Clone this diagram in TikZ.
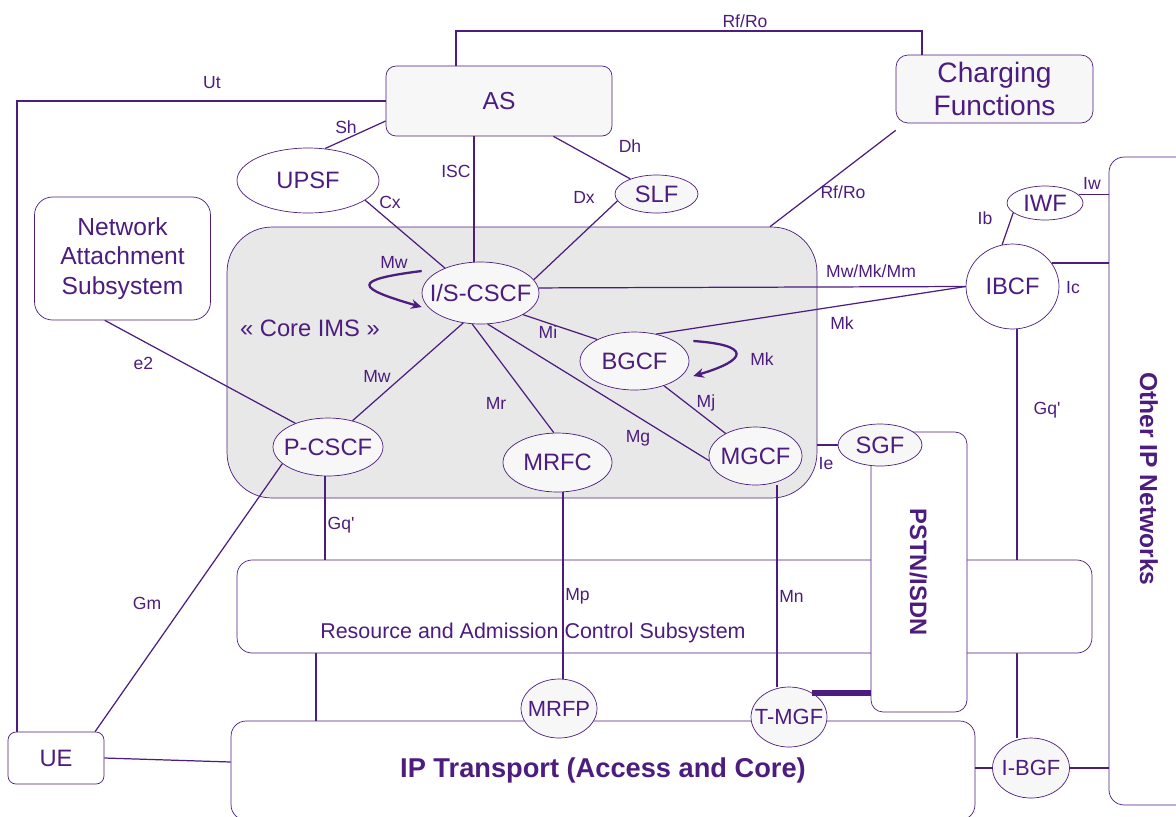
\documentclass[tikz,border=0pt]{standalone}
\usepackage{fontspec}
\setmainfont{Liberation Sans}
\usetikzlibrary{arrows.meta, positioning, shapes.geometric, calc}

\definecolor{imspurple}{RGB}{76,28,126}
\definecolor{imsfill}{RGB}{247,247,247}
\definecolor{coregray}{RGB}{232,232,232}

\begin{document}
\begin{tikzpicture}[
  x=0.02cm, y=-0.02cm,
  fn/.style={ellipse, draw=imspurple, fill=imsfill, inner sep=-1cm,
             text=imspurple, font=\fontsize{13.5}{16}\selectfont},
  sys/.style={rectangle, draw=imspurple, fill=white, rounded corners=#1,
              inner sep=0pt, text=imspurple, align=center},
  sys/.default=0.24cm,
  lnk/.style={draw=imspurple, line width=0.7pt},
  selfloop/.style={draw=imspurple, line width=1.3pt, -{Stealth[length=6pt, width=5.5pt]}},
  trunk/.style={draw=imspurple, line width=3pt},
  lbl/.style={text=imspurple, inner sep=0pt, font=\fontsize{10}{12}\selectfont},
  title/.style={text=imspurple, inner sep=0pt},
]
\useasboundingbox (0,0) rectangle (1176,816);

% ---- subsystems ----
\node[sys=0.9cm, fill=coregray, minimum width=11.8cm, minimum height=5.42cm] (core) at (522,362.5) {};
\node[title, font=\fontsize{13.5}{16}\selectfont] (coretxt) at (310,328) {« Core IMS »};
\node[sys=0.36cm, minimum width=3.52cm, minimum height=2.46cm, font=\fontsize{14}{17}\selectfont] (nas) at (122.5,258.5) {Network\\Attachment\\Subsystem};
\node[sys=0.2cm, fill=imsfill, minimum width=4.52cm, minimum height=1.4cm, font=\fontsize{14}{17}\selectfont] (as) at (499,101) {AS};
\node[sys, fill=imsfill, minimum width=3.94cm, minimum height=1.36cm, font=\fontsize{16}{19}\selectfont] (chg) at (994.5,89) {Charging\\Functions};
\node[sys=0.16cm, minimum width=1.92cm, minimum height=1.04cm, font=\fontsize{13.5}{16}\selectfont] (ue) at (56,758) {UE};
\node[sys=0.3cm, minimum width=14.88cm, minimum height=1.98cm, font=\bfseries\fontsize{15.5}{18}\selectfont] (ipt) at (603,770.5) {IP Transport (Access and Core)};
\node[sys=0.3cm, minimum width=1.82cm, minimum height=12.96cm] (oip) at (1154.5,481) {};
\node[title, rotate=-90, font=\bfseries\fontsize{14}{16}\selectfont] (oiptxt) at (1149,479) {Other IP Networks};

% ---- functions ----
\node[fn, fill=white, minimum width=2.84cm, minimum height=1.3cm] (upsf) at (308,180.5) {UPSF};
\node[fn, minimum width=1.66cm, minimum height=0.76cm] (slf) at (656.5,194) {SLF};
\node[fn, minimum width=2.34cm, minimum height=1.24cm] (iscscf) at (480.5,293) {I/S-CSCF};
\node[fn, minimum width=2.18cm, minimum height=1.16cm] (bgcf) at (634.5,361) {BGCF};
\node[fn, minimum width=2.2cm, minimum height=1.16cm] (pcscf) at (328,447) {P-CSCF};
\node[fn, minimum width=2.18cm, minimum height=1.18cm] (mrfc) at (557.5,462.5) {MRFC};
\node[fn, minimum width=1.86cm, minimum height=1.16cm] (mgcf) at (755.5,456) {MGCF};
\node[fn, fill=white, minimum width=1.86cm, minimum height=1.7cm] (ibcf) at (1012.5,286.5) {IBCF};
\node[fn, fill=white, minimum width=1.52cm, minimum height=0.68cm] (iwf) at (1045,203) {IWF};
\node[fn, minimum width=1.52cm, minimum height=1.18cm, font=\fontsize{12.5}{15}\selectfont] (mrfp) at (559,708.5) {MRFP};
\node[fn, minimum width=1.52cm, minimum height=1.2cm, font=\fontsize{12.5}{15}\selectfont] (tmgf) at (789,717) {T-MGF};
\node[fn, minimum width=1.54cm, minimum height=1.2cm, font=\fontsize{12.5}{15}\selectfont] (ibgf) at (1031,768) {I-BGF};

% Gq' from IBCF runs under the RACS box
\draw[lnk] (ibcf.south -| 1017,0) -- (ibgf.north -| 1017,0);

% ---- RACS and PSTN ----
\node[sys=0.3cm, minimum width=17.1cm, minimum height=1.86cm] (racs) at (664.5,606.5) {};
\node[title, font=\fontsize{12.2}{14}\selectfont] (racstxt) at (533,633) {Resource and Admission Control Subsystem};
\node[sys, minimum width=1.92cm, minimum height=5.6cm] (pstn) at (919,572) {};
\node[title, rotate=-90, font=\bfseries\fontsize{13.5}{16}\selectfont] (pstntxt) at (918.5,572) {PSTN/ISDN};
\node[fn, minimum width=1.68cm, minimum height=0.84cm] (sgf) at (880,445) {SGF};

% ---- interfaces ----
\coordinate (rfc) at (922,31);
\draw[lnk] (as.north -| 456,0) |- (rfc) -- (chg.north -| rfc);
\draw[lnk] (as.west) -| (ue.north -| 17,0);
\draw[lnk] (as.190) -- (upsf.62);
\draw[lnk] (as.-33) -- (slf.150);
\draw[lnk] (as.south -| 474,0) -- (iscscf.north -| 474,0);
\draw[lnk] (upsf.-19) -- (iscscf.145);
\draw[lnk] (slf.190) -- (iscscf.14);
\draw[lnk] ($(chg.south west)+(0,7)$) -- (core.north -| 770,0);
\draw[lnk] (iscscf.5) -- (ibcf.west);
\draw[lnk] (ibcf.west) -- (bgcf.51);
\draw[lnk] (iscscf.-27) -- (bgcf.150);
\draw[lnk] (iscscf.-77) -- (mgcf.186);
\draw[lnk] (bgcf.-40) -- (mgcf.143);
\draw[lnk] (iscscf.255) -- (mrfc.97);
\draw[lnk] (iscscf.240) -- (pcscf.47);
\draw[lnk] (nas.254) -- (pcscf.144);
\draw[lnk] (ue.34) -- (pcscf.200);
\draw[lnk] (ue.east) -- (ipt.west |- 0,762);
\draw[lnk] (pcscf.south -| 325,0) -- (racs.north -| 325,0);
\draw[lnk] (racs.south -| 316,0) -- (ipt.north -| 316,0);
\draw[lnk] (mrfc.south -| 563,0) -- (mrfp.north -| 563,0);
\draw[lnk] (mgcf.south -| 777,0) -- (tmgf.north -| 777,0);
\draw[trunk] (tmgf.46) -- (tmgf.46 -| pstn.west);
\draw[lnk] (sgf.west -| core.east) -- (sgf.west);
\draw[lnk] (iwf.197) -- (ibcf.104);
\draw[lnk] (iwf.14) -- (iwf.14 -| oip.west);
\draw[lnk] (ibcf.31) -- (ibcf.31 -| oip.west);
\draw[lnk] (ipt.east |- ibgf.west) -- (ibgf.west);
\draw[lnk] (ibgf.east) -- (ibgf.east -| oip.west);

% ---- self loops ----
\draw[selfloop] ($(iscscf.west)+(0,-22)$) .. controls (350,280) and (356,288) .. ($(iscscf.west)+(0,14)$);
\draw[selfloop] ($(bgcf.east)+(4,-20)$) .. controls (752,345) and (748,360) .. ($(bgcf.east)+(4,15)$);

% ---- interface labels ----
\node[lbl] (lrf1) at (745,21) {Rf/Ro};
\node[lbl] (lut) at (212,83) {Ut};
\node[lbl] (lsh) at (346,127) {Sh};
\node[lbl] (ldh) at (630,146) {Dh};
\node[lbl] (lisc) at (456,171) {ISC};
\node[lbl] (lcx) at (390,202) {Cx};
\node[lbl] (ldx) at (584,197) {Dx};
\node[lbl] (lrf2) at (843,192) {Rf/Ro};
\node[lbl] (lmw1) at (394,262) {Mw};
\node[lbl] (lmwkm) at (871,271) {Mw/Mk/Mm};
\node[lbl] (lmk1) at (842,323) {Mk};
\node[lbl] (lmk2) at (762,359) {Mk};
\node[lbl] (lmi) at (548,332) {Mi};
\node[lbl] (lmj) at (706,403) {Mj};
\node[lbl] (lmr) at (496,403) {Mr};
\node[lbl] (lmg) at (638,438) {Mg};
\node[lbl] (lmw2) at (377,376) {Mw};
\node[lbl] (le2) at (143.5,363) {e2};
\node[lbl] (lgm) at (147,603) {Gm};
\node[lbl] (lgq1) at (341,525) {Gq\textquotesingle};
\node[lbl, anchor=west] (lmp) at (565,596) {Mp};
\node[lbl, anchor=west] (lmn) at (779,596) {Mn};
\node[lbl] (lie) at (826,464) {Ie};
\node[lbl] (lgq2) at (1047,410) {Gq\textquotesingle};
\node[lbl] (lib) at (985,218) {Ib};
\node[lbl] (liw) at (1092,183) {Iw};
\node[lbl] (lic) at (1073,288) {Ic};

\end{tikzpicture}
\end{document}
